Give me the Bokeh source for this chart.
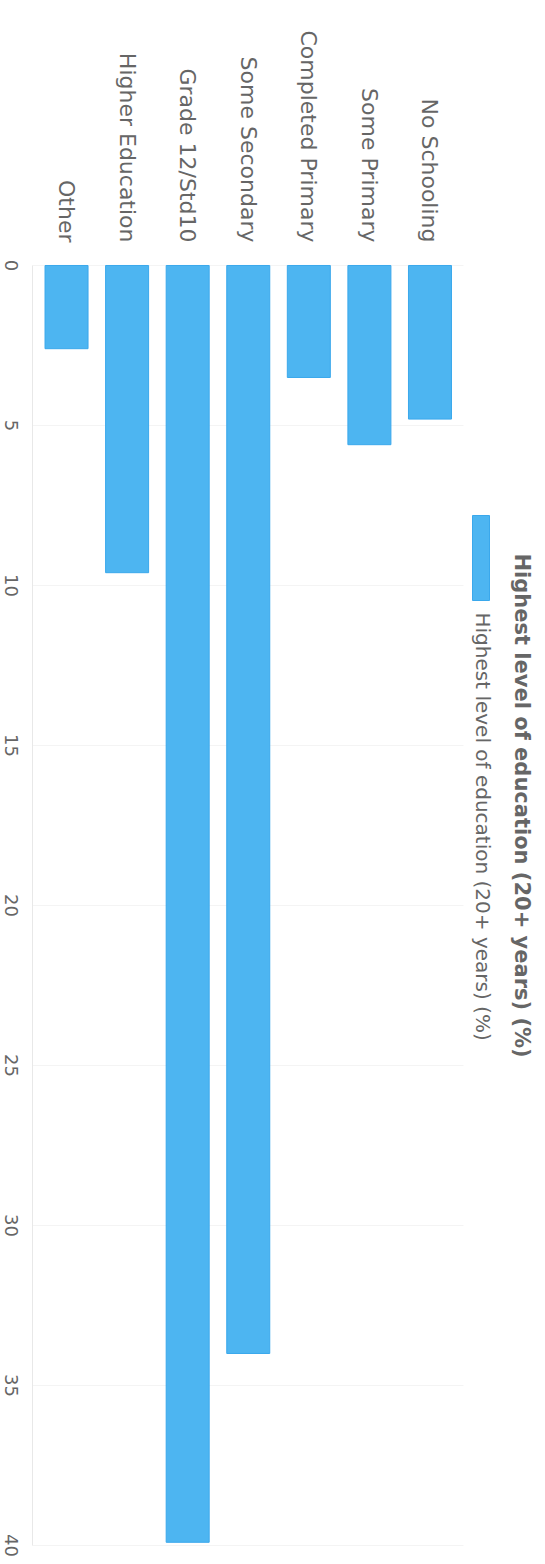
import math

from bokeh.core.properties import value
from bokeh.embed import file_html
from bokeh.models import ColumnDataSource, FixedTicker, Range1d
from bokeh.plotting import figure
from bokeh.resources import INLINE

# --- data -------------------------------------------------------------------
categories = ["No Schooling", "Some Primary", "Completed Primary", "Some Secondary",
              "Grade 12/Std10", "Higher Education", "Other"]
percentages = [4.8, 5.6, 3.5, 34.0, 39.9, 9.6, 2.6]
value_ticks = [0, 5, 10, 15, 20, 25, 30, 35, 40]
series_name = "Highest level of education (20+ years) (%)"
chart_title = "Highest level of education (20+ years) (%)"

# --- style ------------------------------------------------------------------
TEXT = "#666666"
FONT = "DejaVu Sans"
BAR_FILL = "#4DB5F1"
BAR_LINE = "#3AA8EC"
GRID = "#f4f4f4"

# --- geometry ---------------------------------------------------------------
# The chart is turned a quarter turn clockwise: categories run from right to
# left along the top and the bars grow downwards from the zero line.
W, H = 545, 1564
FRAME_TOP = 252                 # canvas row where the plotting frame starts
X_START, X_END = -1.09, 7.907   # category slots across the full width
Y_TOP, Y_BOTTOM = -0.406, 40.594  # percent values down the frame


def x_at(px):
    """Data x for a canvas column."""
    return X_START + px * (X_END - X_START) / W


def y_at(py):
    """Data y for a canvas row."""
    return Y_TOP + (py - FRAME_TOP) * (Y_BOTTOM - Y_TOP) / (H - FRAME_TOP)


# slot 0 is the leftmost column, so the first category ends up on the right
slots = list(range(len(categories)))[::-1]
AXIS_X, AXIS_X_END = x_at(32), x_at(463)

p = figure(
    width=W, height=H,
    output_backend="svg", toolbar_location=None,
    x_range=Range1d(start=X_START, end=X_END),
    y_range=Range1d(start=Y_BOTTOM, end=Y_TOP),
    x_axis_location="above", y_axis_location=None,
    min_border_left=0, min_border_right=0,
    min_border_top=FRAME_TOP, min_border_bottom=0,
)
p.outline_line_color = None
p.background_fill_color = "white"
p.border_fill_color = "white"
p.xgrid.grid_line_color = None
p.ygrid.grid_line_color = None

# category axis along the top, labels reading downwards
p.xaxis.ticker = FixedTicker(ticks=slots)
p.xaxis.major_label_overrides = {s: c for s, c in zip(slots, categories)}
p.xaxis.major_label_orientation = -math.pi / 2
p.xaxis.major_label_standoff = 10
p.xaxis.major_tick_line_color = None
p.xaxis.minor_tick_line_color = None
p.xaxis.major_tick_out = 0
p.xaxis.major_tick_in = 0
p.xaxis.axis_line_color = None
p.xaxis.major_label_text_font = FONT
p.xaxis.major_label_text_font_size = "22px"
p.xaxis.major_label_text_color = TEXT

# value grid lines and the value axis line, limited to the bar area
n = len(value_ticks)
p.segment(x0=[AXIS_X] * n, x1=[AXIS_X_END] * n, y0=value_ticks, y1=value_ticks,
          line_color=GRID, line_width=1)
p.segment(x0=[AXIS_X], x1=[AXIS_X], y0=[value_ticks[0]], y1=[value_ticks[-1]],
          line_color="#e8e8e8", line_width=1)

# bars
src = ColumnDataSource(dict(slot=slots, category=categories, pct=percentages))
p.vbar(x="slot", top="pct", bottom=0, width=0.71, source=src,
       fill_color=BAR_FILL, line_color=BAR_LINE, line_width=1)

# value tick labels, reading downwards and centred on their values
p.text(x=[AXIS_X] * n, y=value_ticks, text=[str(t) for t in value_ticks],
       x_offset=-21, angle=-math.pi / 2,
       text_align="center", text_baseline="middle",
       text_font=value(FONT), text_font_size=value("18px"), text_color=TEXT)

# legend: swatch plus series name
p.rect(x=[x_at(480.5)], y=[y_at(557.5)], width=17, height=85,
       width_units="screen", height_units="screen",
       fill_color=BAR_FILL, line_color=BAR_LINE, line_width=1)
p.text(x=[x_at(482)], y=[y_at(612)], text=[series_name], angle=-math.pi / 2,
       text_align="left", text_baseline="middle",
       text_font=value(FONT), text_font_size=value("20px"), text_color=TEXT)

# chart title
p.text(x=[x_at(521)], y=[y_at(553)], text=[chart_title], angle=-math.pi / 2,
       text_align="left", text_baseline="middle",
       text_font=value(FONT), text_font_style="bold",
       text_font_size=value("21px"), text_color=TEXT)

open("out.html", "w").write(file_html(p, INLINE))
